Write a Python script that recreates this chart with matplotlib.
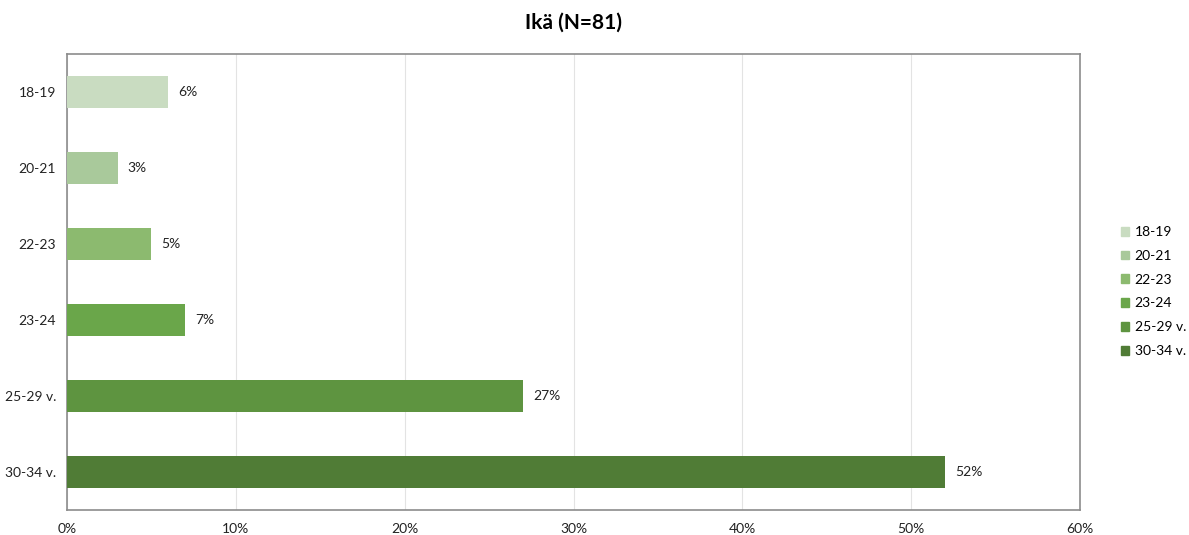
import matplotlib.pyplot as plt
from matplotlib.patches import Patch

plt.rcParams['font.family'] = ['Lato', 'DejaVu Sans']

ages = ['18-19', '20-21', '22-23', '23-24', '25-29 v.', '30-34 v.']
shares = [6, 3, 5, 7, 27, 52]
colors = ['#c9dcc1', '#a9c99b', '#8cba6f', '#6aa64a', '#5e9440', '#507c36']

fig = plt.figure(figsize=(11.89, 5.35), dpi=100)
ax = fig.add_axes([0.0564, 0.0467, 0.8519, 0.8523])

pos = list(range(len(ages)))
ax.barh(pos, shares, height=0.41, color=colors, zorder=3)
for p, v in zip(pos, shares):
    ax.text(v + 0.6, p, '%d%%' % v, va='center', ha='left', fontsize=10, color='#222222')

ax.set_xlim(0, 60)
ax.set_ylim(len(ages) - 0.5, -0.5)
ax.set_xticks(range(0, 61, 10))
ax.set_xticklabels(['%d%%' % t for t in range(0, 61, 10)])
ax.set_yticks(pos)
ax.set_yticklabels(ages)
ax.tick_params(length=0, labelsize=10, colors='#222222')
ax.tick_params(axis='x', pad=9)
ax.tick_params(axis='y', pad=8)
ax.grid(axis='x', color='#e3e3e3', linewidth=0.8, zorder=0)
for s in ax.spines.values():
    s.set_color('#8c8c8c')
    s.set_linewidth(1.2)

ax.set_title('Ikä (N=81)', fontsize=15, fontweight='bold', pad=18)

handles = [Patch(color=c, label=a) for a, c in zip(ages, colors)]
fig.legend(handles=handles, loc='center left', bbox_to_anchor=(0.932, 0.455),
           frameon=False, fontsize=10, handlelength=0.6, handleheight=0.6,
           handletextpad=0.4, labelspacing=0.85)

fig.savefig('out.png', dpi=100)
